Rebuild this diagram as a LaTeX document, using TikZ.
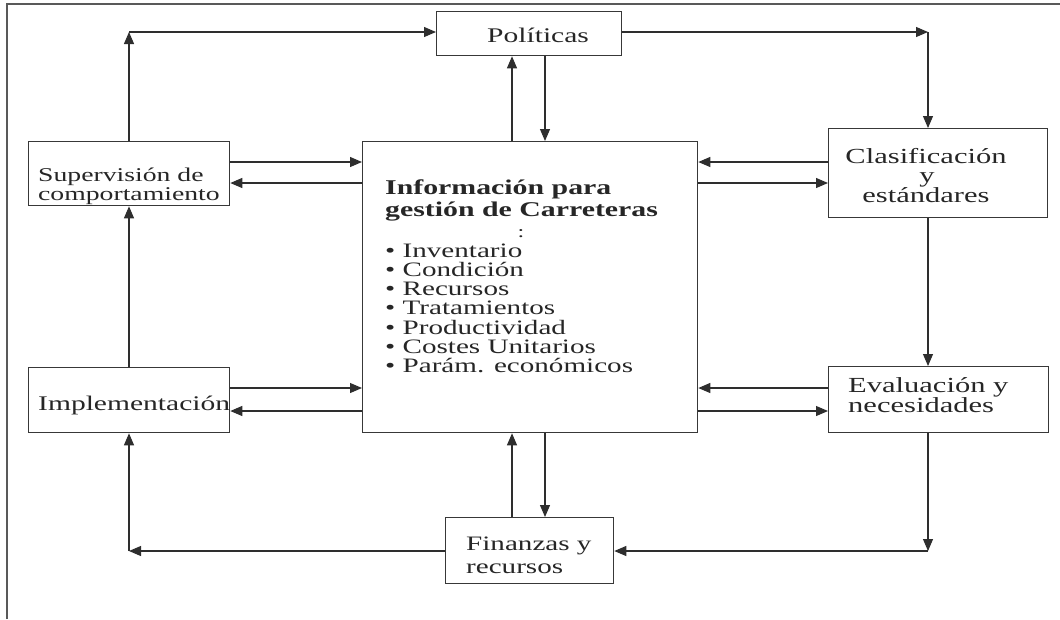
\documentclass[tikz,border=0pt]{standalone}
\usepackage{fontspec}
\setmainfont{Liberation Serif}[FakeStretch=1.42]
\usetikzlibrary{arrows.meta}
\begin{document}
\begin{tikzpicture}[x=1pt,y=-1pt,
  box/.style={draw=black!78, line width=1.3pt, inner sep=0pt, anchor=north west},
  conn/.style={draw=black!82, line width=1.1pt},
  tip/.style={conn, -{Triangle[length=12pt,width=10pt]}},
  txt/.style={inner sep=0pt, anchor=base west, text=black!85,
    font=\fontsize{19.5}{19.5}\selectfont},
  mtxt/.style={txt, font=\fontsize{20.8}{20.8}\selectfont},
  rtxt/.style={txt, font=\fontsize{21.5}{21.5}\selectfont},
  ctxt/.style={rtxt, anchor=base},
  itxt/.style={txt, font=\fontsize{20.5}{20.5}\selectfont},
  btxt/.style={txt, font=\fontsize{21}{21}\selectfont\bfseries},
  frame/.style={draw=black!65, line width=1.6pt}]
\useasboundingbox (0,0) rectangle (1060,619);

% page frame
\draw[frame] (7,619) -- (7,4) -- (1060,4);

% boxes
\node[box, minimum width=185pt, minimum height=44pt]  (pol)  at (436,11)  {};
\node[box, minimum width=335pt, minimum height=291pt] (info) at (362,141) {};
\node[box, minimum width=201pt, minimum height=64pt]  (sup)  at (28,141)  {};
\node[box, minimum width=201pt, minimum height=65pt]  (impl) at (28,367)  {};
\node[box, minimum width=219pt, minimum height=89pt]  (clas) at (828,128) {};
\node[box, minimum width=220pt, minimum height=66pt]  (eval) at (828,366) {};
\node[box, minimum width=168pt, minimum height=66pt]  (fin)  at (445,517) {};

% box texts
\node[mtxt] (polT) at (487,42) {Políticas};
\node[txt] (supT1) at (38,181) {Supervisión de};
\node[txt] (supT2) at (38,200) {comportamiento};
\node[mtxt] (implT) at (38,410) {Implementación};
\node[ctxt] (clasT1) at (926,163) {Clasificación};
\node[ctxt] (clasT2) at (927,182) {y};
\node[ctxt] (clasT3) at (926,202) {estándares};
\node[rtxt] (evalT1) at (848,392) {Evaluación y};
\node[rtxt] (evalT2) at (848,412) {necesidades};
\node[itxt] (finT1) at (466,550) {Finanzas y};
\node[itxt] (finT2) at (466,573) {recursos};

\node[btxt] (infoT1) at (385,194) {Información para};
\node[btxt] (infoT2) at (385,216) {gestión de Carreteras};
\node[txt, anchor=base, font=\fontsize{17}{17}\selectfont] (infoC) at (521,237) {:};
\node[itxt] (li1) at (385,257.0) {• Inventario};
\node[itxt] (li2) at (385,276.3) {• Condición};
\node[itxt] (li3) at (385,295.6) {• Recursos};
\node[itxt] (li4) at (385,314.9) {• Tratamientos};
\node[itxt] (li5) at (385,334.2) {• Productividad};
\node[itxt] (li6) at (385,353.5) {• Costes Unitarios};
\node[itxt] (li7) at (385,372.8) {• Parám. económicos};

% connector levels
\coordinate (rowTop) at (0,32);
\coordinate (rowBot) at (0,551);
\coordinate (rowA) at (0,162);
\coordinate (rowB) at (0,183);
\coordinate (rowC) at (0,388);
\coordinate (rowD) at (0,411);
\coordinate (colL) at (129,0);
\coordinate (colR) at (928,0);
\coordinate (colUp) at (512,0);
\coordinate (colDn) at (545,0);
\coordinate (cTL) at (colL |- rowTop);
\coordinate (cTR) at (colR |- rowTop);
\coordinate (cBL) at (colL |- rowBot);
\coordinate (cBR) at (colR |- rowBot);

% outer loop
\draw[tip] (sup.north -| colL) -- (cTL);
\draw[tip] (cTL) -- (pol.west |- rowTop);
\draw[tip] (pol.east |- rowTop) -- (cTR);
\draw[tip] (cTR) -- (clas.north -| colR);
\draw[tip] (clas.south -| colR) -- (eval.north -| colR);
\draw[tip] (eval.south -| colR) -- (cBR);
\draw[tip] (cBR) -- (fin.east |- rowBot);
\draw[tip] (fin.west |- rowBot) -- (cBL);
\draw[tip] (cBL) -- (impl.south -| colL);
\draw[tip] (impl.north -| colL) -- (sup.south -| colL);

% exchanges with the information box
\draw[tip] (info.north -| colUp) -- (pol.south -| colUp);
\draw[tip] (pol.south -| colDn) -- (info.north -| colDn);
\draw[tip] (fin.north -| colUp) -- (info.south -| colUp);
\draw[tip] (info.south -| colDn) -- (fin.north -| colDn);

\draw[tip] (sup.east |- rowA) -- (info.west |- rowA);
\draw[tip] (info.west |- rowB) -- (sup.east |- rowB);
\draw[tip] (impl.east |- rowC) -- (info.west |- rowC);
\draw[tip] (info.west |- rowD) -- (impl.east |- rowD);

\draw[tip] (clas.west |- rowA) -- (info.east |- rowA);
\draw[tip] (info.east |- rowB) -- (clas.west |- rowB);
\draw[tip] (eval.west |- rowC) -- (info.east |- rowC);
\draw[tip] (info.east |- rowD) -- (eval.west |- rowD);
\end{tikzpicture}
\end{document}
